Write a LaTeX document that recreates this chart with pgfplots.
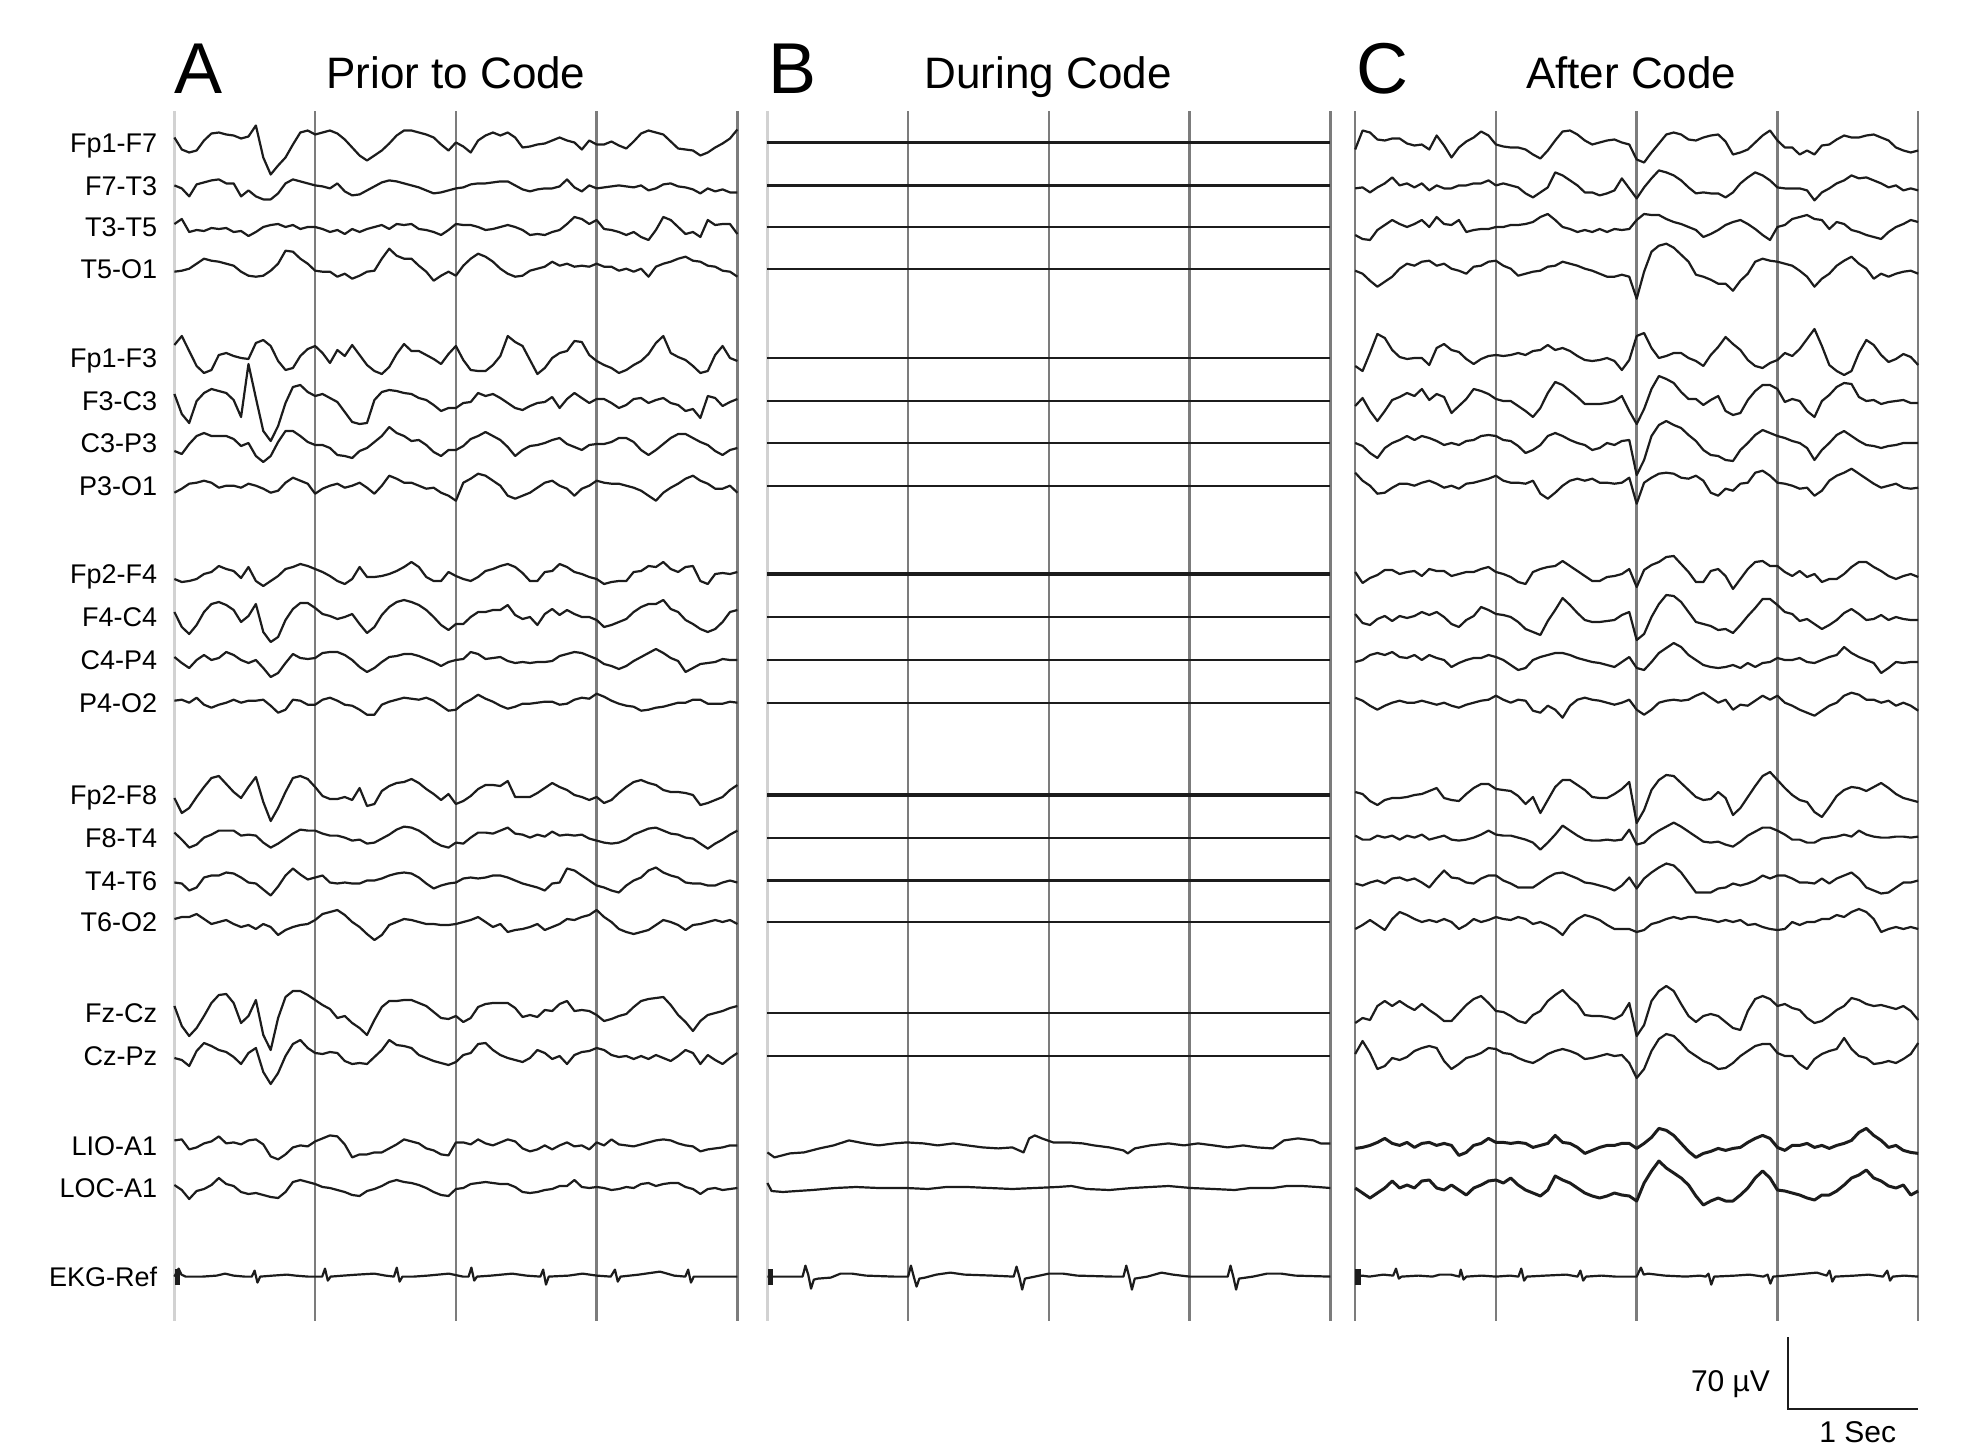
\documentclass[border=0pt]{standalone}
\usepackage{pgfplots}
\pgfplotsset{compat=1.18}
\usepackage{fontspec}
\setmainfont{Liberation Sans}
\definecolor{trc}{HTML}{1C1C1C}
\definecolor{gln}{HTML}{7C7C7C}
\newcommand{\Ao}{0}
\newcommand{\Bo}{4.213}
\newcommand{\Co}{8.389}
% regular traces: samples every 1/19 s, values = deflection in px (about 1 uV), positive = up
\newcommand{\tr}[4][]{\addplot[trace,#1] table[row sep=\\, header=false, x expr={#2+\coordindex/19}, y expr={#3-(\thisrowno{0})}] {#4};}
% traces given as (time, deflection) pairs
\newcommand{\trc}[4][]{\addplot[trace,#1, x filter/.expression={#2+x}, y filter/.expression={#3-y}] coordinates {#4};}
\newcommand{\vl}[2][]{\addplot[gridl,#1] coordinates {(#2,111)(#2,1321)};}
\pgfplotsset{
  trace/.style={color=trc, line width=1.1pt, line join=round, mark=none},
  gridl/.style={color=gln, line width=1.2pt, mark=none},
}
\tikzset{lab/.style={anchor=base east, inner sep=0pt, yshift=-4.8pt, font=\fontsize{13.5}{16}\selectfont}}
\begin{document}
\begin{tikzpicture}
\useasboundingbox (0,0) rectangle (989pt,728pt);
\begin{axis}[at={(0,0)}, anchor=south west, scale only axis, width=989pt, height=728pt,
  xmin=-1.239, xmax=12.814, ymin=0, ymax=1456, y dir=reverse, axis lines=none, clip=false]
% ---- second lines
\vl[gray!35]{0}\vl{1}\vl{2}\vl{3}\vl{4}
\vl[gray!35]{4.213}\vl{5.213}\vl{6.213}\vl{7.213}\vl{8.213}
\vl{8.389}\vl{9.389}\vl{10.389}\vl{11.389}\vl{12.389}
% ================= PANEL A =================
\tr{\Ao}{142.5}{5\\-7\\-10\\-8\\2\\9\\10\\8\\7\\4\\6\\17\\-15\\-32\\-23\\-15\\-2\\10\\12\\8\\10\\12\\9\\3\\-5\\-13\\-18\\-13\\-8\\-1\\7\\12\\12\\10\\8\\5\\-2\\-8\\0\\-4\\-10\\2\\7\\10\\7\\10\\5\\-5\\-4\\-2\\-1\\2\\5\\2\\0\\-7\\2\\-2\\-2\\1\\-3\\-6\\1\\9\\12\\10\\8\\1\\-6\\-7\\-8\\-13\\-10\\-5\\-1\\4\\13\\}
\tr{\Ao}{185.4}{0\\-3\\-11\\1\\3\\5\\6\\2\\2\\-11\\-5\\-11\\-14\\-14\\-8\\2\\6\\4\\2\\0\\-1\\-3\\2\\-6\\-10\\-9\\-5\\-1\\3\\5\\4\\2\\0\\-2\\-5\\-8\\-7\\-5\\-3\\-2\\1\\2\\2\\3\\4\\4\\0\\-4\\-6\\-4\\-3\\-3\\-1\\6\\-2\\-6\\0\\-3\\-2\\-1\\0\\-1\\-2\\0\\-5\\-3\\1\\2\\-1\\-2\\-4\\-8\\-3\\-6\\-4\\-7\\-7\\}
\tr{\Ao}{227}{3\\8\\-5\\-3\\-4\\-1\\-2\\-1\\-5\\-4\\-9\\-5\\0\\2\\3\\0\\2\\-2\\0\\0\\-2\\-5\\-3\\-7\\-2\\-5\\-2\\0\\2\\-2\\3\\2\\3\\-2\\-3\\-5\\-8\\-3\\3\\2\\2\\0\\-3\\-2\\0\\2\\0\\-3\\-8\\-7\\-8\\-5\\-3\\3\\10\\8\\3\\7\\-2\\-3\\-5\\-8\\-5\\-10\\-13\\-3\\10\\7\\0\\-7\\-5\\-10\\7\\2\\3\\3\\-7\\}
\tr{\Ao}{268.7}{-3\\-2\\0\\5\\10\\8\\7\\5\\3\\-3\\-7\\-8\\-7\\-2\\5\\18\\17\\10\\5\\-2\\-3\\-3\\-8\\-5\\-10\\-7\\-3\\-2\\10\\20\\13\\10\\10\\3\\-3\\-12\\-7\\-3\\-7\\3\\10\\15\\12\\7\\0\\-5\\-8\\-7\\-2\\0\\2\\7\\3\\5\\2\\3\\2\\5\\2\\2\\-2\\0\\-3\\0\\-8\\2\\5\\7\\10\\12\\8\\7\\3\\2\\-2\\-3\\-8\\}
\tr{\Ao}{358}{13\\22\\7\\-8\\-15\\-12\\3\\5\\2\\0\\-1\\15\\18\\12\\-3\\-12\\-10\\2\\9\\12\\5\\-5\\8\\2\\13\\3\\-7\\-13\\-16\\-9\\4\\14\\7\\7\\3\\-1\\-6\\4\\12\\-2\\-12\\-13\\-13\\-7\\2\\22\\16\\12\\-2\\-16\\-10\\0\\5\\7\\17\\16\\3\\-3\\-7\\-10\\-15\\-12\\-7\\-3\\4\\15\\22\\5\\1\\-2\\-8\\-15\\-13\\3\\12\\0\\-3\\}
\tr{\Ao}{401}{7\\-13\\-22\\0\\8\\12\\10\\8\\1\\-16\\37\\3\\-30\\-40\\-25\\-2\\14\\16\\9\\5\\7\\3\\-1\\-11\\-21\\-23\\-22\\1\\9\\11\\10\\8\\7\\3\\1\\-4\\-10\\-7\\-7\\-2\\-1\\8\\5\\7\\3\\-2\\-7\\-9\\-5\\-2\\-1\\4\\-7\\2\\8\\3\\-2\\2\\2\\-2\\-7\\-4\\2\\3\\-2\\1\\3\\-2\\-4\\-10\\-8\\-17\\5\\3\\-5\\-1\\2\\}
\tr{\Ao}{443}{-8\\-11\\-1\\7\\10\\7\\7\\7\\4\\-3\\0\\-13\\-19\\-13\\1\\12\\12\\7\\1\\-2\\-2\\-5\\-12\\-13\\-15\\-8\\-5\\1\\7\\16\\10\\7\\2\\3\\-2\\-9\\-13\\-7\\-7\\-3\\4\\7\\11\\7\\3\\-4\\-13\\-7\\-3\\-2\\0\\3\\5\\-1\\-4\\-7\\-2\\-1\\-1\\1\\5\\5\\1\\-7\\-12\\-7\\-1\\5\\9\\9\\5\\1\\-2\\-8\\-12\\-7\\-5\\}
\tr{\Ao}{485.7}{-7\\-3\\2\\3\\5\\3\\-2\\0\\0\\-2\\2\\0\\-3\\-7\\-5\\3\\8\\5\\2\\-8\\-3\\0\\2\\-2\\0\\3\\-2\\-8\\0\\10\\7\\3\\3\\0\\-3\\-2\\-7\\-10\\-15\\3\\7\\12\\10\\5\\0\\-10\\-13\\-10\\-7\\-2\\3\\5\\0\\-3\\-10\\-3\\0\\5\\3\\2\\2\\0\\-2\\-5\\-10\\-15\\-7\\-2\\2\\7\\10\\5\\2\\-3\\-3\\0\\-7\\}
\tr{\Ao}{574}{-5\\-8\\-7\\-5\\0\\2\\8\\5\\3\\-4\\7\\-7\\-12\\-7\\-2\\5\\7\\10\\8\\5\\2\\-2\\-7\\-10\\-5\\7\\-3\\-3\\-2\\0\\3\\7\\12\\7\\-3\\-7\\-7\\2\\-2\\-5\\-7\\-3\\3\\5\\8\\10\\7\\1\\-7\\-7\\2\\3\\10\\7\\2\\0\\-3\\-5\\-10\\-8\\-7\\-7\\2\\3\\8\\7\\12\\5\\2\\7\\8\\-7\\-10\\0\\1\\0\\2\\}
\tr{\Ao}{617}{5\\-10\\-17\\-8\\5\\13\\15\\12\\7\\-5\\1\\13\\-15\\-25\\-20\\-3\\8\\14\\14\\9\\3\\1\\-2\\0\\3\\-7\\-16\\-10\\2\\10\\15\\17\\15\\12\\7\\0\\-8\\-13\\-7\\-7\\0\\5\\5\\7\\7\\12\\2\\-2\\0\\-8\\3\\8\\2\\7\\3\\0\\0\\-3\\-10\\-8\\-5\\-2\\5\\10\\13\\13\\17\\8\\5\\-3\\-7\\-12\\-15\\-12\\-5\\5\\7\\}
\tr{\Ao}{660}{3\\-3\\-8\\0\\5\\0\\2\\8\\5\\0\\-3\\0\\-8\\-17\\-13\\-3\\6\\2\\1\\2\\7\\8\\8\\5\\0\\-7\\-12\\-8\\-2\\3\\4\\6\\6\\4\\1\\-2\\-6\\-2\\0\\1\\8\\6\\1\\2\\3\\-1\\-3\\-2\\-3\\-2\\-2\\-1\\4\\6\\8\\7\\4\\1\\-4\\-6\\-9\\-6\\-1\\3\\7\\11\\7\\2\\-1\\-12\\-8\\-4\\-3\\-2\\1\\0\\0\\}
\tr{\Ao}{702.7}{2\\3\\0\\5\\-2\\-5\\-2\\0\\3\\0\\2\\2\\3\\-3\\-10\\-7\\3\\2\\-2\\-2\\3\\5\\2\\-2\\-3\\-7\\-12\\-12\\-2\\1\\3\\5\\4\\3\\5\\2\\-3\\-8\\-7\\-1\\3\\8\\4\\1\\-3\\-6\\-4\\-1\\-1\\0\\1\\1\\-2\\-1\\3\\5\\4\\9\\6\\2\\-1\\-3\\-4\\-8\\-7\\-5\\-4\\-2\\0\\0\\3\\3\\-1\\-1\\-1\\1\\0\\}
\tr{\Ao}{795}{-3\\-18\\-13\\-2\\8\\17\\19\\11\\3\\-3\\8\\18\\-7\\-26\\-13\\3\\17\\19\\16\\8\\-1\\-4\\-4\\-2\\-5\\7\\-11\\-9\\4\\9\\12\\13\\16\\12\\6\\1\\-5\\1\\-9\\-6\\-1\\6\\10\\10\\9\\14\\-2\\-2\\-2\\2\\7\\12\\8\\5\\0\\-2\\-5\\-2\\-8\\-5\\2\\8\\13\\15\\12\\10\\5\\3\\3\\2\\0\\-10\\-8\\-5\\-2\\5\\10\\}
\tr{\Ao}{837.6}{5\\-2\\-10\\-7\\0\\3\\7\\7\\7\\2\\3\\2\\-5\\-10\\-6\\-1\\4\\8\\7\\7\\4\\2\\2\\0\\-3\\-2\\-6\\-5\\-1\\3\\8\\11\\10\\7\\2\\-4\\-8\\-10\\-5\\-6\\0\\5\\5\\4\\7\\10\\4\\3\\0\\3\\1\\6\\2\\3\\2\\3\\-1\\-3\\-5\\-6\\-5\\-2\\3\\6\\9\\10\\7\\4\\3\\0\\-1\\-6\\-11\\-6\\-2\\3\\7\\}
\tr{\Ao}{880.5}{-2\\-3\\-10\\-7\\3\\5\\5\\8\\7\\3\\-2\\-3\\-9\\-15\\-6\\5\\12\\6\\1\\3\\5\\-2\\-3\\-2\\-3\\-3\\0\\0\\2\\5\\7\\8\\7\\3\\-3\\-8\\-5\\-3\\-2\\2\\3\\2\\3\\5\\5\\3\\0\\-3\\-5\\-7\\-10\\-3\\-2\\12\\10\\5\\0\\-5\\-7\\-10\\-12\\-5\\0\\3\\10\\13\\8\\5\\3\\-2\\-3\\-3\\-5\\-5\\-2\\0\\-2\\}
\tr{\Ao}{922}{3\\5\\5\\8\\3\\-2\\0\\2\\-2\\-5\\-3\\-7\\-2\\-5\\-13\\-8\\-5\\-3\\-2\\2\\8\\10\\12\\7\\0\\-5\\-12\\-18\\-13\\-3\\0\\3\\2\\0\\-2\\-2\\-3\\-3\\-2\\0\\2\\5\\0\\-5\\-2\\-10\\-8\\-7\\-5\\-2\\-8\\-5\\-2\\3\\2\\5\\7\\12\\5\\0\\-7\\-10\\-12\\-10\\-8\\-3\\2\\0\\-3\\-8\\-3\\-2\\0\\2\\0\\2\\-2\\}
\tr{\Ao}{1013}{7\\-13\\-23\\-15\\-3\\10\\18\\19\\10\\-10\\-3\\13\\-22\\-37\\-5\\16\\22\\22\\18\\13\\8\\4\\-5\\-3\\-10\\-15\\-22\\-7\\6\\12\\12\\13\\13\\10\\7\\1\\-5\\-6\\-3\\-9\\-5\\6\\9\\10\\10\\10\\5\\-4\\-2\\-4\\3\\2\\9\\12\\2\\3\\2\\-2\\-8\\-6\\-3\\-1\\6\\12\\14\\15\\16\\8\\-2\\-9\\-18\\-8\\-2\\0\\2\\5\\7\\}
\tr{\Ao}{1056}{-2\\-4\\-10\\5\\13\\10\\6\\4\\-1\\-8\\3\\8\\-16\\-28\\-17\\0\\12\\16\\8\\3\\2\\4\\3\\-5\\-8\\-7\\-8\\-1\\6\\16\\11\\10\\8\\1\\-2\\-5\\-7\\-9\\-6\\1\\3\\12\\13\\6\\1\\-2\\-4\\-6\\-2\\6\\3\\-3\\0\\-8\\1\\4\\5\\8\\6\\1\\-1\\0\\-3\\0\\-3\\1\\-2\\-5\\0\\6\\3\\-8\\1\\-4\\-8\\-2\\3\\}
\tr{\Ao}{1145.4}{5\\6\\-4\\-2\\2\\4\\9\\2\\3\\1\\5\\6\\1\\-11\\-14\\-9\\-2\\0\\-1\\4\\7\\10\\9\\1\\-12\\-9\\-9\\-7\\-7\\-3\\1\\6\\4\\2\\-3\\-5\\-9\\-10\\3\\3\\1\\6\\2\\0\\3\\6\\4\\-3\\-6\\-4\\0\\-4\\0\\3\\-1\\0\\-4\\3\\0\\6\\1\\0\\-1\\1\\3\\5\\6\\5\\2\\0\\-1\\-6\\-4\\-3\\-2\\0\\0\\}
\tr{\Ao}{1188}{3\\-2\\-11\\-3\\-1\\3\\10\\4\\2\\-4\\-6\\-5\\-7\\-9\\-10\\-4\\6\\8\\6\\4\\1\\0\\-2\\-4\\-7\\-8\\-3\\-1\\2\\6\\8\\6\\5\\3\\0\\-4\\-7\\-8\\-1\\0\\4\\5\\6\\5\\4\\4\\1\\-4\\-5\\-4\\-2\\-1\\2\\2\\8\\1\\0\\1\\0\\-2\\-1\\1\\0\\4\\5\\2\\4\\5\\5\\1\\-1\\-6\\-1\\0\\-2\\-1\\0\\}
\trc{\Ao}{1276.6}{(0,0)(0.03,8)(0.05,2)(0.08,0)(0.2,0)(0.3,1)(0.36,3)(0.42,1)(0.5,0)(0.55,0)(0.57,6)(0.59,-6)(0.61,0)(0.7,1)(0.8,2)(0.86,1)(0.95,0)(1.05,0)(1.07,8)(1.09,-4)(1.11,0)(1.2,1)(1.3,2)(1.42,3)(1.5,1)(1.56,0)(1.58,9)(1.6,-5)(1.62,0)(1.7,0)(1.8,1)(1.95,3)(2.05,0)(2.09,0)(2.11,9)(2.13,-4)(2.15,0)(2.25,1)(2.4,3)(2.5,1)(2.6,0)(2.62,7)(2.64,-8)(2.66,0)(2.8,1)(2.9,3)(3.0,1)(3.1,0)(3.13,7)(3.15,-5)(3.17,0)(3.3,2)(3.45,5)(3.55,1)(3.63,0)(3.65,7)(3.67,-6)(3.69,0)(3.8,0)(4.0,0)}
\trc[line width=2.6pt]{\Ao}{1276.6}{(0.02,-8)(0.02,8)}
% ================= PANEL B =================
\trc{\Bo}{142.5}{(0,0)(4,0)}
\trc{\Bo}{185.4}{(0,0)(4,0)}
\trc{\Bo}{227}{(0,0)(4,0)}
\trc{\Bo}{268.7}{(0,0)(4,0)}
\trc{\Bo}{358}{(0,0)(4,0)}
\trc{\Bo}{401}{(0,0)(4,0)}
\trc{\Bo}{443}{(0,0)(4,0)}
\trc{\Bo}{485.7}{(0,0)(4,0)}
\trc[line width=1.7pt]{\Bo}{574}{(0,0)(4,0)}
\trc{\Bo}{617}{(0,0)(4,0)}
\trc{\Bo}{660}{(0,0)(4,0)}
\trc{\Bo}{702.7}{(0,0)(4,0)}
\trc[line width=1.7pt]{\Bo}{795}{(0,0)(4,0)}
\trc{\Bo}{837.6}{(0,0)(4,0)}
\trc{\Bo}{880.5}{(0,0)(4,0)}
\trc{\Bo}{922}{(0,0)(4,0)}
\trc{\Bo}{1013}{(0,0)(4,0)}
\trc{\Bo}{1056}{(0,0)(4,0)}
\trc{\Bo}{1145.4}{(0,-7)(0.05,-12)(0.16,-8)(0.26,-7)(0.37,-3)(0.47,0)(0.58,5)(0.69,2)(0.79,0)(0.9,2)(0.99,3)(1.11,2)(1.21,0)(1.32,2)(1.42,0)(1.53,-2)(1.64,-3)(1.74,-2)(1.82,-7)(1.86,7)(1.9,10)(1.95,7)(2.03,3)(2.14,3)(2.24,2)(2.32,0)(2.43,-2)(2.53,-5)(2.56,-8)(2.61,-3)(2.72,0)(2.85,2)(2.96,0)(3.06,2)(3.17,0)(3.27,-2)(3.38,0)(3.48,-2)(3.59,-3)(3.67,5)(3.77,7)(3.88,5)(3.93,2)(4.0,2)}
\trc{\Bo}{1188}{(0,5)(0.03,-3)(0.11,-4)(0.21,-3)(0.32,-2)(0.48,0)(0.63,1)(0.79,0)(0.99,0)(1.14,-1)(1.27,1)(1.42,1)(1.58,0)(1.74,-1)(1.9,0)(2.06,1)(2.16,2)(2.27,-1)(2.43,-2)(2.59,0)(2.72,1)(2.85,2)(3.01,0)(3.17,-1)(3.32,-2)(3.43,0)(3.59,0)(3.69,2)(3.8,2)(3.91,1)(4.0,0)}
\trc{\Bo}{1276.6}{(0,0)(0.25,0)(0.27,11)(0.29,2)(0.31,-12)(0.33,-3)(0.36,-2)(0.45,-1)(0.52,3)(0.6,3)(0.7,1)(0.9,0)(1.0,0)(1.02,11)(1.04,0)(1.06,-10)(1.08,-2)(1.12,-1)(1.2,2)(1.3,4)(1.4,2)(1.6,1)(1.75,0)(1.77,10)(1.79,0)(1.81,-13)(1.83,-2)(1.9,0)(2.0,3)(2.1,3)(2.2,1)(2.45,0)(2.53,0)(2.55,11)(2.57,0)(2.59,-13)(2.61,-2)(2.7,0)(2.8,4)(2.88,2)(3.0,0)(3.27,0)(3.29,11)(3.31,0)(3.33,-13)(3.35,-2)(3.45,0)(3.55,3)(3.65,3)(3.75,1)(4.0,0)}
\trc[line width=2.6pt]{\Bo}{1276.6}{(0.02,-8)(0.02,8)}
% ================= PANEL C =================
\tr{\Co}{142.5}{-7\\12\\10\\3\\2\\4\\4\\-1\\-3\\-2\\-7\\7\\-3\\-15\\-5\\1\\5\\11\\7\\-2\\-4\\-5\\-5\\-7\\-12\\-16\\-8\\2\\11\\12\\8\\2\\-2\\0\\2\\3\\0\\-2\\-17\\-20\\-10\\-1\\8\\10\\8\\3\\2\\5\\7\\8\\1\\-12\\-10\\-7\\0\\7\\12\\2\\-5\\-5\\-12\\-8\\-12\\-3\\-2\\3\\7\\5\\5\\7\\8\\5\\2\\-5\\-8\\-10\\-8\\}
\tr{\Co}{185.4}{-3\\-2\\-7\\-2\\2\\8\\0\\2\\-2\\2\\-5\\0\\-3\\-3\\0\\0\\2\\2\\5\\0\\2\\0\\-2\\-8\\-12\\-7\\-2\\13\\10\\5\\0\\-7\\-7\\-10\\-8\\-5\\7\\-3\\-13\\-2\\7\\15\\13\\10\\5\\-2\\-8\\-7\\-8\\-8\\-12\\-7\\2\\8\\13\\10\\5\\-2\\-3\\-3\\-3\\-5\\-15\\-7\\-3\\2\\5\\10\\7\\8\\5\\2\\-2\\0\\-5\\-3\\-5\\}
\tr{\Co}{227}{-8\\-12\\-13\\-3\\2\\7\\3\\0\\3\\7\\0\\10\\3\\2\\7\\-5\\-3\\-2\\-2\\0\\0\\2\\2\\3\\5\\10\\13\\7\\0\\-2\\-5\\-3\\-5\\-2\\-5\\-2\\-3\\-2\\7\\13\\12\\12\\8\\5\\3\\0\\-3\\-10\\-7\\-3\\2\\5\\7\\3\\-2\\-8\\-13\\0\\2\\8\\10\\12\\8\\7\\-2\\5\\3\\-3\\-5\\-8\\-10\\-12\\-5\\0\\3\\7\\5\\}
\tr{\Co}{268.7}{-2\\-5\\-12\\-18\\-13\\-8\\0\\5\\3\\7\\8\\3\\5\\0\\-2\\-5\\2\\3\\7\\8\\3\\0\\-7\\-5\\-3\\-2\\2\\3\\7\\5\\3\\0\\-2\\-5\\-8\\-8\\-6\\-8\\-30\\-3\\17\\23\\25\\21\\14\\7\\-6\\-8\\-11\\-15\\-15\\-22\\-12\\-5\\7\\10\\8\\7\\5\\3\\-2\\-8\\-18\\-10\\-5\\3\\8\\12\\5\\0\\-10\\-5\\-8\\-5\\-3\\-2\\-5\\}
\tr{\Co}{358}{-8\\-13\\5\\24\\20\\8\\1\\-1\\0\\0\\-7\\10\\14\\8\\6\\-1\\-6\\-1\\2\\3\\2\\3\\5\\3\\7\\8\\13\\8\\10\\7\\2\\-2\\-3\\-2\\0\\-3\\-12\\-2\\22\\25\\10\\0\\2\\5\\5\\0\\-3\\-8\\3\\11\\21\\14\\8\\-2\\-8\\-10\\-5\\-2\\5\\2\\9\\19\\29\\12\\-7\\-13\\-17\\-13\\5\\18\\13\\3\\-4\\-1\\4\\1\\-7\\}
\tr{\Co}{401}{-5\\3\\-10\\-20\\-10\\1\\4\\8\\5\\12\\1\\7\\4\\-12\\-5\\2\\12\\10\\7\\2\\0\\0\\-5\\-10\\-16\\-7\\8\\19\\16\\10\\4\\-3\\-3\\-3\\-2\\0\\5\\-10\\-23\\-8\\12\\25\\22\\18\\9\\2\\2\\-4\\1\\5\\-10\\-14\\-12\\1\\10\\16\\16\\12\\-1\\2\\0\\-10\\-16\\0\\6\\14\\18\\17\\4\\0\\1\\-3\\-1\\0\\1\\-2\\-2\\}
\tr{\Co}{443}{0\\-3\\-10\\-15\\-5\\0\\3\\7\\3\\7\\5\\2\\-2\\0\\-2\\2\\3\\7\\8\\7\\3\\2\\-3\\-10\\-7\\-2\\7\\10\\7\\3\\0\\-2\\-7\\-5\\0\\-2\\2\\3\\-32\\-17\\7\\18\\22\\18\\15\\8\\2\\-7\\-12\\-13\\-17\\-18\\-7\\0\\8\\13\\10\\7\\5\\2\\0\\-5\\-17\\-7\\0\\8\\12\\7\\2\\-2\\-3\\-5\\-3\\-2\\0\\0\\0\\}
\tr{\Co}{485.7}{13\\5\\0\\-8\\-7\\-2\\2\\2\\0\\3\\5\\2\\-2\\0\\-3\\2\\3\\5\\7\\10\\5\\3\\3\\2\\5\\-8\\-13\\-7\\0\\5\\7\\5\\7\\3\\3\\2\\3\\8\\-18\\3\\8\\12\\13\\12\\8\\7\\10\\5\\-7\\-10\\-3\\-5\\2\\3\\13\\15\\10\\3\\2\\0\\-3\\-2\\-10\\-5\\5\\10\\13\\17\\12\\7\\2\\-2\\0\\2\\-2\\-3\\-2\\}
\tr{\Co}{574}{2\\-9\\-4\\-1\\4\\4\\0\\2\\3\\-2\\5\\3\\3\\-2\\0\\2\\2\\5\\7\\2\\0\\-3\\-8\\-10\\2\\5\\7\\8\\13\\8\\3\\-2\\-7\\-7\\-3\\-2\\0\\5\\-13\\4\\9\\12\\17\\18\\10\\2\\-8\\-8\\3\\5\\-2\\-15\\-5\\5\\12\\13\\8\\8\\2\\-2\\3\\-3\\0\\-8\\-5\\-5\\0\\7\\12\\12\\7\\3\\-2\\-5\\-2\\0\\-3\\}
\tr{\Co}{617}{3\\-6\\-8\\-2\\1\\-4\\1\\-1\\1\\5\\2\\5\\0\\-7\\-10\\-3\\1\\10\\7\\3\\2\\0\\-5\\-12\\-15\\-18\\-4\\7\\19\\12\\4\\-3\\-5\\-5\\-4\\-3\\2\\5\\-23\\-17\\0\\13\\22\\21\\15\\5\\-5\\-7\\-9\\-13\\-12\\-16\\-8\\1\\9\\18\\18\\12\\5\\3\\-4\\-2\\-7\\-12\\-8\\-3\\4\\8\\3\\-3\\-2\\2\\-3\\0\\-2\\-3\\-3\\}
\tr{\Co}{660}{-2\\0\\5\\7\\5\\8\\3\\2\\5\\0\\5\\2\\0\\-7\\-3\\0\\2\\2\\5\\3\\0\\-5\\-10\\-8\\0\\3\\5\\7\\7\\5\\2\\0\\-2\\-3\\-5\\-7\\-2\\3\\-8\\-10\\-2\\7\\12\\17\\13\\5\\0\\-5\\-7\\-8\\-7\\-5\\-8\\-3\\-7\\-3\\-2\\2\\0\\0\\2\\-2\\-3\\0\\3\\5\\13\\7\\3\\0\\-3\\-13\\-8\\-2\\-3\\-2\\-2\\}
\tr{\Co}{702.7}{5\\2\\-3\\-7\\-3\\0\\2\\0\\0\\2\\0\\-2\\0\\-3\\-5\\-2\\0\\2\\3\\7\\3\\0\\3\\2\\-8\\-10\\-3\\-7\\-15\\-3\\3\\5\\3\\2\\0\\-2\\0\\3\\-7\\-12\\-7\\0\\2\\3\\2\\3\\7\\10\\5\\0\\3\\-7\\-2\\-3\\2\\7\\3\\7\\0\\-3\\-7\\-10\\-13\\-8\\-3\\0\\7\\10\\8\\3\\3\\0\\2\\-3\\0\\-3\\-8\\}
\tr{\Co}{795}{3\\1\\-6\\-10\\-5\\-3\\-3\\-2\\0\\1\\4\\7\\-3\\-5\\-6\\1\\7\\11\\11\\6\\5\\4\\-1\\-9\\-2\\-18\\-5\\8\\15\\15\\10\\5\\-2\\-3\\-3\\1\\6\\13\\-28\\-15\\5\\15\\20\\19\\12\\5\\-2\\-5\\-4\\3\\-3\\-20\\-13\\-2\\9\\19\\23\\15\\7\\0\\-5\\-7\\-17\\-22\\-12\\-1\\5\\8\\7\\4\\8\\12\\7\\1\\-3\\-5\\-7\\}
\tr{\Co}{837.6}{2\\-2\\-2\\2\\0\\2\\-2\\2\\0\\3\\-2\\0\\2\\-2\\-3\\-2\\0\\3\\7\\3\\2\\2\\0\\-2\\-5\\-12\\-5\\3\\12\\7\\2\\-2\\-3\\-3\\-2\\-3\\-2\\8\\-7\\-5\\2\\7\\11\\15\\11\\6\\1\\-4\\-5\\-4\\-7\\-9\\-4\\2\\6\\10\\10\\7\\3\\-2\\-2\\-5\\-5\\-1\\0\\1\\3\\1\\7\\3\\1\\0\\0\\1\\1\\0\\1\\}
\tr{\Co}{880.5}{-3\\-5\\-2\\0\\-3\\2\\3\\0\\2\\-2\\-7\\2\\10\\3\\2\\-2\\-3\\2\\5\\5\\0\\-3\\-7\\-7\\-7\\-2\\3\\7\\8\\5\\2\\-2\\-3\\-5\\-7\\-10\\-5\\3\\-8\\2\\8\\13\\17\\15\\8\\-2\\-12\\-12\\-12\\-8\\-7\\-3\\-5\\-3\\0\\5\\2\\5\\5\\2\\-2\\-2\\-3\\2\\-3\\2\\5\\8\\2\\-7\\-10\\-13\\-12\\-7\\-2\\-2\\0\\}
\tr{\Co}{922}{-7\\-3\\2\\-3\\-8\\3\\10\\7\\3\\0\\2\\0\\3\\0\\-7\\-3\\3\\0\\2\\5\\3\\2\\5\\3\\-2\\0\\-3\\-7\\-13\\-3\\3\\7\\5\\2\\-3\\-7\\-7\\-7\\-10\\-8\\-2\\0\\3\\5\\3\\5\\5\\3\\2\\0\\2\\0\\2\\-3\\-2\\-5\\-7\\-8\\-7\\0\\-3\\0\\0\\3\\3\\7\\5\\10\\13\\10\\3\\-10\\-7\\-5\\-7\\-5\\-7\\}
\tr{\Co}{1013}{-10\\-5\\-7\\7\\12\\7\\12\\7\\3\\9\\3\\-2\\-8\\-8\\0\\8\\14\\17\\10\\2\\1\\-3\\-8\\-10\\-2\\2\\12\\18\\23\\15\\9\\-2\\-3\\-3\\-4\\-6\\-2\\10\\-23\\-12\\12\\22\\27\\22\\9\\-3\\-9\\-3\\-1\\-3\\-9\\-15\\-17\\2\\14\\17\\14\\7\\9\\5\\3\\-5\\-10\\-8\\-3\\3\\7\\15\\13\\9\\7\\8\\6\\4\\7\\2\\-7\\}
\tr{\Co}{1056}{2\\15\\3\\-13\\-10\\-2\\-4\\-1\\5\\8\\10\\8\\-5\\-13\\-8\\-2\\0\\3\\8\\7\\3\\2\\-2\\-5\\-7\\-3\\2\\5\\7\\5\\2\\-3\\-2\\0\\2\\0\\1\\-7\\-22\\-13\\5\\17\\22\\20\\13\\5\\0\\-5\\-8\\-13\\-12\\-7\\0\\5\\10\\12\\12\\3\\0\\0\\-8\\-13\\-3\\2\\5\\7\\18\\7\\0\\-2\\-8\\-7\\-5\\-7\\-3\\2\\13\\}
\tr[line width=1.5pt]{\Co}{1145.4}{-3\\-2\\0\\3\\7\\2\\0\\3\\-2\\2\\3\\0\\2\\0\\-10\\-7\\0\\2\\7\\3\\3\\2\\3\\2\\-2\\0\\2\\10\\3\\2\\-2\\-8\\-5\\-2\\0\\0\\2\\2\\-3\\2\\8\\17\\15\\10\\2\\-6\\-12\\-8\\-6\\-3\\-5\\-3\\-2\\3\\7\\10\\7\\-2\\-5\\0\\0\\2\\-2\\0\\-3\\0\\2\\5\\13\\17\\10\\5\\-2\\0\\-5\\-7\\-8\\}
\tr[line width=1.5pt]{\Co}{1188}{0\\-5\\-10\\-5\\0\\7\\0\\3\\0\\7\\8\\0\\-2\\3\\-2\\-7\\0\\3\\7\\8\\5\\10\\3\\-2\\-5\\-8\\-2\\12\\8\\5\\0\\-5\\-8\\-10\\-8\\-5\\-7\\-8\\-13\\5\\17\\27\\20\\15\\10\\3\\-8\\-17\\-13\\-10\\-13\\-13\\-7\\0\\10\\17\\10\\-2\\-3\\-5\\-7\\-10\\-12\\-7\\-7\\-3\\3\\10\\13\\18\\10\\7\\2\\0\\3\\-7\\-3\\}
\trc{\Co}{1276.6}{(0,0)(0.05,1)(0.1,0)(0.2,2)(0.27,1)(0.29,8)(0.31,-2)(0.33,0)(0.45,1)(0.55,0)(0.6,2)(0.68,2)(0.74,0)(0.75,7)(0.77,-3)(0.79,0)(0.9,1)(1.0,0)(1.1,1)(1.16,0)(1.18,8)(1.2,-4)(1.22,0)(1.35,1)(1.5,2)(1.58,0)(1.6,6)(1.62,-4)(1.64,0)(1.75,1)(1.85,0)(2.0,0)(2.03,9)(2.05,2)(2.08,3)(2.2,1)(2.35,0)(2.45,1)(2.49,0)(2.51,3)(2.53,-8)(2.55,0)(2.7,1)(2.8,2)(2.9,0)(2.93,2)(2.95,-7)(2.97,0)(3.05,1)(3.2,3)(3.28,4)(3.35,1)(3.37,6)(3.39,-5)(3.41,0)(3.55,1)(3.65,2)(3.75,0)(3.78,6)(3.8,-4)(3.82,0)(3.9,1)(4.0,0)}
\trc[line width=2.6pt]{\Co}{1276.6}{(0.02,-8)(0.02,8)}
% ================= labels =================
\node[lab] at (axis cs:-0.12,142.5) {Fp1-F7};
\node[lab] at (axis cs:-0.12,185.4) {F7-T3};
\node[lab] at (axis cs:-0.12,227) {T3-T5};
\node[lab] at (axis cs:-0.12,268.7) {T5-O1};
\node[lab] at (axis cs:-0.12,358) {Fp1-F3};
\node[lab] at (axis cs:-0.12,401) {F3-C3};
\node[lab] at (axis cs:-0.12,443) {C3-P3};
\node[lab] at (axis cs:-0.12,485.7) {P3-O1};
\node[lab] at (axis cs:-0.12,574) {Fp2-F4};
\node[lab] at (axis cs:-0.12,617) {F4-C4};
\node[lab] at (axis cs:-0.12,660) {C4-P4};
\node[lab] at (axis cs:-0.12,702.7) {P4-O2};
\node[lab] at (axis cs:-0.12,795) {Fp2-F8};
\node[lab] at (axis cs:-0.12,837.6) {F8-T4};
\node[lab] at (axis cs:-0.12,880.5) {T4-T6};
\node[lab] at (axis cs:-0.12,922) {T6-O2};
\node[lab] at (axis cs:-0.12,1013) {Fz-Cz};
\node[lab] at (axis cs:-0.12,1056) {Cz-Pz};
\node[lab] at (axis cs:-0.12,1145.4) {LIO-A1};
\node[lab] at (axis cs:-0.12,1188) {LOC-A1};
\node[lab] at (axis cs:-0.12,1276.6) {EKG-Ref};
% titles
\node[anchor=base west, inner sep=0pt, font=\fontsize{36}{40}\selectfont] at (axis cs:0.0,93) {A};
\node[anchor=base west, inner sep=0pt, font=\fontsize{36}{40}\selectfont] at (axis cs:4.217,93) {B};
\node[anchor=base west, inner sep=0pt, font=\fontsize{36}{40}\selectfont] at (axis cs:8.393,93) {C};
\node[anchor=base, inner sep=0pt, font=\fontsize{22}{26}\selectfont] at (axis cs:2.0,88) {Prior to Code};
\node[anchor=base, inner sep=0pt, font=\fontsize{22}{26}\selectfont] at (axis cs:6.207,88) {During Code};
\node[anchor=base, inner sep=0pt, font=\fontsize{22}{26}\selectfont] at (axis cs:10.35,88) {After Code};
% scale bar
\draw[line width=1pt, trc] (axis cs:11.464,1337) -- (axis cs:11.464,1409) -- (axis cs:12.388,1409);
\node[anchor=base east, inner sep=0pt, font=\fontsize{15}{18}\selectfont] at (axis cs:11.339,1391) {70 µV};
\node[anchor=base, inner sep=0pt, font=\fontsize{15}{18}\selectfont] at (axis cs:11.96,1442) {1 Sec};
\end{axis}
\end{tikzpicture}
\end{document}
